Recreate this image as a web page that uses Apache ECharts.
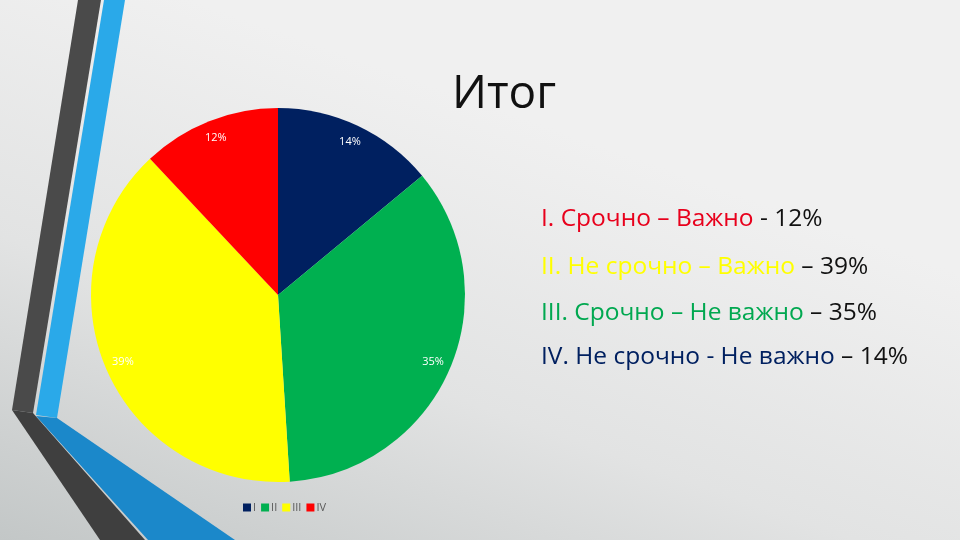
<!DOCTYPE html>
<html>
<head>
<meta charset="utf-8">
<script src="https://cdn.jsdelivr.net/npm/echarts@6/dist/echarts.min.js"></script>
<style>
html,body{margin:0;padding:0;width:960px;height:540px;overflow:hidden;}
#c{width:960px;height:540px;}
</style>
</head>
<body>
<div id="c"></div>
<script>
const categories = ['I', 'II', 'III', 'IV'];
const values = [14, 35, 39, 12];
const sliceColors = ['#002060', '#00B050', '#FFFF00', '#FF0000'];
const titleText = 'Итог';
const noteLines = [
  [['I. Срочно – Важно', 'r'], [' - 12%', 'k']],
  [['II. Не срочно – Важно', 'y'], [' – 39%', 'k']],
  [['III. Срочно – Не важно', 'g'], [' – 35%', 'k']],
  [['IV. Не срочно - Не важно', 'b'], [' – 14%', 'k']]
];

const FONT = '"Open Sans", "Noto Sans", sans-serif';
const FS = 24.5;
const chart = echarts.init(document.getElementById('c'));

const pieData = categories.map((n, i) => ({ name: n, value: values[i], itemStyle: { color: sliceColors[i] } }));
const labelData = categories.map((n, i) => ({ name: n, value: values[i] }));

const noteRich = {
  r: { fill: '#E8001C', fontSize: FS, fontFamily: FONT },
  y: { fill: '#FFFF00', fontSize: FS, fontFamily: FONT },
  g: { fill: '#00A850', fontSize: FS, fontFamily: FONT },
  b: { fill: '#002060', fontSize: FS, fontFamily: FONT },
  k: { fill: '#111111', fontSize: FS, fontFamily: FONT }
};
const noteYs = [219, 267, 313, 357];
const noteGraphics = noteLines.map((parts, i) => ({
  type: 'text',
  left: 541,
  top: noteYs[i] - 12,
  z: 10,
  style: {
    text: parts.map(p => '{' + p[1] + '|' + p[0] + '}').join(''),
    rich: noteRich,
    font: FS + 'px ' + FONT
  }
}));

chart.setOption({
  backgroundColor: {
    type: 'linear', x: 0.2, y: 0, x2: 0, y2: 1,
    colorStops: [
      { offset: 0, color: '#f0f0f0' },
      { offset: 0.5, color: '#e2e3e3' },
      { offset: 1, color: '#c3c7c7' }
    ]
  },
  animation: false,
  graphic: [
    { type: 'polygon', z: 1, shape: { points: [[78, 0], [101, 0], [33, 413], [12, 410]] }, style: { fill: '#4a4a4a' } },
    { type: 'polygon', z: 1, shape: { points: [[104, 0], [125, 0], [57, 418], [36, 415]] }, style: { fill: '#2aa9e9' } },
    { type: 'polygon', z: 1, shape: { points: [[12, 410], [33, 413], [145, 540], [100, 540]] }, style: { fill: '#3f3f3f' } },
    { type: 'polygon', z: 1, shape: { points: [[36, 416], [57, 418], [235, 540], [148, 540]] }, style: { fill: '#1b88ca' } },
    {
      type: 'text', left: 452, top: 72, z: 10,
      style: { text: titleText, font: '46px ' + FONT, fill: '#111111' }
    }
  ].concat(noteGraphics),
  legend: {
    data: categories,
    left: 238,
    top: 497,
    itemWidth: 8,
    itemHeight: 8,
    itemGap: 5,
    icon: 'rect',
    textStyle: { color: '#595959', fontSize: 11, fontFamily: FONT, padding: [0, 0, 0, -3] },
    selectedMode: false
  },
  series: [
    {
      type: 'pie',
      center: [278, 295],
      radius: [0, 187],
      startAngle: 90,
      clockwise: true,
      silent: true,
      label: { show: false },
      labelLine: { show: false },
      data: pieData
    },
    {
      type: 'pie',
      center: [278, 295],
      radius: [146, 186],
      startAngle: 90,
      clockwise: true,
      silent: true,
      itemStyle: { color: 'rgba(0,0,0,0)' },
      label: {
        show: true,
        position: 'inside',
        formatter: '{d}%',
        color: '#ffffff',
        fontSize: 11,
        fontFamily: FONT
      },
      labelLine: { show: false },
      data: labelData
    }
  ]
});
</script>
</body>
</html>
